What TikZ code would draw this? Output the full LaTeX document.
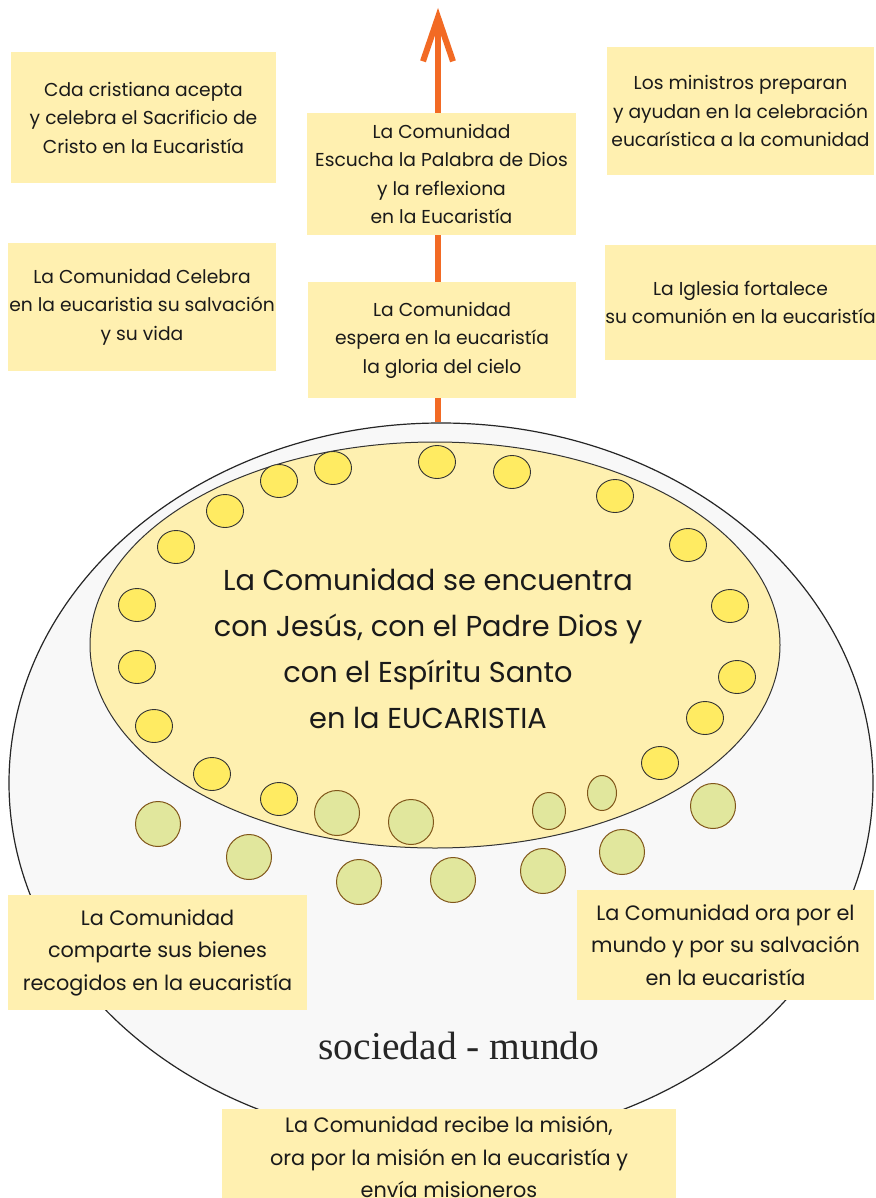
\documentclass[tikz,border=0pt]{standalone}
\usepackage{fontspec}
\setmainfont{Poppins}
\newfontfamily\serifsoc{Liberation Serif}
\usetikzlibrary{shapes.geometric,arrows.meta}
\definecolor{boxc}{HTML}{FFF0B0}
\definecolor{outerc}{HTML}{F8F8F8}
\definecolor{innerc}{HTML}{FEF0B0}
\definecolor{dotc}{HTML}{FFEB62}
\definecolor{greenc}{HTML}{E1E79D}
\definecolor{greenb}{HTML}{80561A}
\definecolor{orangec}{HTML}{F26A24}
\definecolor{txt}{HTML}{1A1A1A}
\tikzset{
  infobox/.style={fill=boxc, inner sep=0pt, align=center, text=txt,
    font=\fontsize{18.7}{28.5}\selectfont},
  infoboxb/.style={infobox, font=\fontsize{20.8}{32.5}\selectfont},
  ydot/.style={ellipse, draw=black!80, line width=0.9pt, fill=dotc, inner sep=0pt, minimum width=37pt, minimum height=33pt},
  gdot/.style={circle, draw=greenb, line width=1pt, fill=greenc, inner sep=0pt, minimum size=45pt},
  gdotsm/.style={ellipse, draw=greenb, line width=1pt, fill=greenc, inner sep=0pt},
  arrowst/.style={draw=orangec, line width=6pt, -{Straight Barb[length=44pt,width=30pt]}}
}
\begin{document}
\begin{tikzpicture}[x=1pt,y=-1pt]
\useasboundingbox (0,0) rectangle (875,1198);
\fill[white] (0,0) rectangle (875,1198);
% outer ellipse
\node[ellipse, draw=black!85, line width=1.2pt, fill=outerc, minimum width=864pt, minimum height=720pt, inner sep=0pt] (outer) at (441,783) {};
\node[ellipse, draw=black!80, line width=1pt, fill=innerc, minimum width=690pt, minimum height=406pt, inner sep=0pt] (inner) at (435,645) {};
\node[align=center, text=txt, font=\fontsize{28.8}{46}\selectfont] (maintext) at (428,649)
  {La Comunidad se encuentra\\con Jesús, con el Padre Dios y\\con el Espíritu Santo\\en la EUCARISTIA};
% arrow
\coordinate (tip) at (438,8);
\draw[arrowst] (tip |- outer.north) -- (tip);
% yellow dots
\foreach \p [count=\i] in {(437,462),(512,472),(615,496),(688,545),(730,606),(737,677),(705,718),(660,763),
  (333,468),(279,481),(225,511),(176,547),(137,605),(137,667),(154,726),(212,774),(279,799)}
  \node[ydot] (yd\i) at \p {};
% green dots
\foreach \p [count=\i] in {(158,824),(249,857),(337,813),(411,822),(359,882),(453,880),(713,806),(622,852),(543,871)}
  \node[gdot] (gd\i) at \p {};
\node[gdotsm, minimum width=33pt, minimum height=37pt] (gs1) at (549,811) {};
\node[gdotsm, minimum width=29pt, minimum height=35pt] (gs2) at (602,793) {};
% boxes
\node[infobox, minimum width=265pt, minimum height=131pt] (b1) at (143.5,117.5)
  {Cda cristiana acepta\\y celebra el Sacrificio de\\Cristo en la Eucaristía};
\node[infobox, minimum width=269pt, minimum height=122pt] (b2) at (441.5,174)
  {La Comunidad\\Escucha la Palabra de Dios\\y la reflexiona\\en la Eucaristía};
\node[infobox, minimum width=267pt, minimum height=128pt] (b3) at (740.5,111)
  {Los ministros preparan\\y ayudan en la celebración\\eucarística a la comunidad};
\node[infobox, minimum width=268pt, minimum height=128pt] (b4) at (142,307)
  {La Comunidad Celebra\\en la eucaristia su salvación\\y su vida};
\node[infobox, minimum width=268pt, minimum height=116pt] (b5) at (442,340)
  {La Comunidad\\espera en la eucaristía\\la gloria del cielo};
\node[infobox, minimum width=267pt, minimum height=115pt] (b6) at (740.5,302.5)
  {La Iglesia fortalece\\su comunión en la eucaristía};
\node[infoboxb, minimum width=299pt, minimum height=115pt] (b7) at (157.5,952.5)
  {La Comunidad\\comparte sus bienes\\recogidos en la eucaristía};
\node[infoboxb, minimum width=297pt, minimum height=110pt] (b8) at (725.5,945)
  {La Comunidad ora por el\\mundo y por su salvación\\en la eucaristía};
\node[infoboxb, minimum width=454pt, minimum height=96pt] (b9) at (449,1157)
  {La Comunidad recibe la misión,\\ora por la misión en la eucaristía y\\envía misioneros};
% label
\node[text=black!85, font=\serifsoc\fontsize{39.5}{44}\selectfont] (soc) at (459,1046) {sociedad - mundo};
\end{tikzpicture}
\end{document}
